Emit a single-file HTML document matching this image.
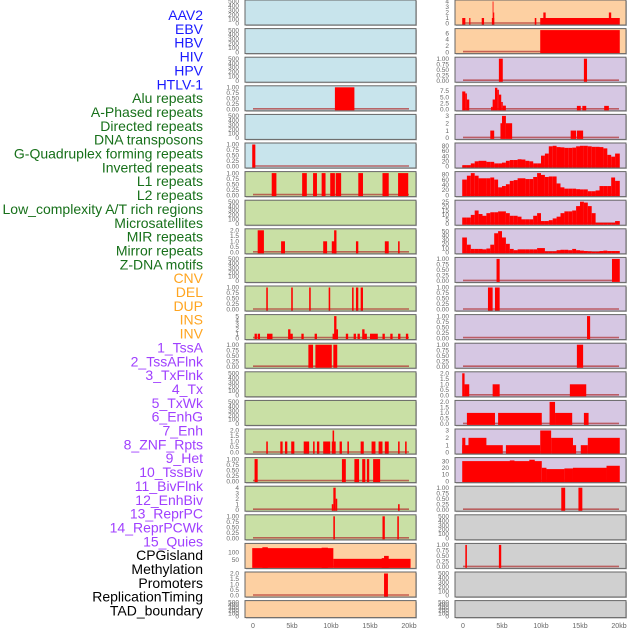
<!DOCTYPE html>
<html><head><meta charset="utf-8"><style>
html,body{margin:0;padding:0;background:#fff;width:630px;height:630px;overflow:hidden}
svg{display:block;font-family:"Liberation Sans",sans-serif}
</style></head><body>
<svg id="chart" width="630" height="630"></svg>
<script>
// ---- labels ----
const trackLabels=["AAV2","EBV","HBV","HIV","HPV","HTLV-1","Alu repeats","A-Phased repeats","Directed repeats","DNA transposons","G-Quadruplex forming repeats","Inverted repeats","L1 repeats","L2 repeats","Low_complexity A/T rich regions","Microsatellites","MIR repeats","Mirror repeats","Z-DNA motifs","CNV","DEL","DUP","INS","INV","1_TssA","2_TssAFlnk","3_TxFlnk","4_Tx","5_TxWk","6_EnhG","7_Enh","8_ZNF_Rpts","9_Het","10_TssBiv","11_BivFlnk","12_EnhBiv","13_ReprPC","14_ReprPCWk","15_Quies","CPGisland","Methylation","Promoters","ReplicationTiming","TAD_boundary"];
const labelGroups=[6,13,5,15,5];
const groupColors=["#1a1aff","#17701a","#ffa520","#a040ff","#000000"];
const xTickValues=[0,5,10,15,20];
const xTickLabels=["0","5kb","10kb","15kb","20kb"];
// ---- left column segments [startKb,endKb,value] ----
const L04=[[10.5,13.0,1]];
const L06=[[-0.1,0.3,1]];
const L07=[[2.4,3.0,1],[6.3,6.9,1],[7.7,8.2,1],[8.8,9.3,1],[9.9,10.5,1],[10.6,11.3,1],[13.5,14.1,1],[16.6,17.4,1],[18.6,19.9,1]];
const L09=[[0.6,1.4,2],[3.6,4.1,1],[9.0,9.5,1],[10.1,10.7,1],[10.4,10.7,2],[13.2,13.5,1],[16.9,17.4,1],[18.6,18.8,1]];
const L11=[[1.7,1.9,1],[4.9,5.1,1],[7.2,7.4,1],[9.7,9.9,1],[12.7,12.9,1],[13.2,13.5,1],[13.8,14.1,1]];
const L12=[[0.2,0.5,1],[0.6,0.9,1],[1.8,2.5,1],[4.5,4.8,2],[4.8,5.1,1],[6.2,6.5,1],[7.9,8.2,1],[10.2,10.8,1],[10.4,10.7,5],[10.7,10.9,2],[11.9,12.2,1],[12.9,13.2,1],[13.4,13.7,1],[14.0,14.3,2],[14.3,14.6,1],[15.0,16.0,1],[16.6,16.9,1],[17.6,17.9,1],[18.6,18.9,1],[19.6,19.9,1]];
const L13=[[7.1,7.7,1],[8.0,10.1,1],[10.3,10.8,1]];
const L16=[[1.7,1.9,1],[3.5,3.8,1],[4.1,4.4,1],[4.9,5.3,1],[6.5,7.2,1],[7.7,7.9,1],[8.2,8.5,1],[9.0,9.9,1],[10.1,10.6,1],[10.2,10.4,2],[11.1,11.4,1],[12.1,12.3,1],[13.8,14.2,1],[15.2,15.7,1],[16.1,16.6,1],[16.9,17.4,1],[18.6,18.8,1],[19.5,19.7,1]];
const L17=[[0.2,0.6,1],[11.4,11.9,1],[13.0,13.6,1],[14.0,14.4,1],[14.6,14.9,1],[15.4,16.3,1]];
const L18=[[10.1,10.3,1],[10.3,10.6,4],[10.6,10.8,2],[18.6,18.8,1]];
const L19=[[10.3,10.5,1],[16.6,16.9,1],[18.5,18.7,1]];
const L20=[[-0.1,10.3,128],[1.2,1.9,134],[8.8,9.6,131],[10.3,20.2,55],[16.5,16.8,60],[16.8,17.4,75]];
const L21=[[16.8,17.3,2]];
// ---- right column segments ----
const R01=[[-0.1,0.3,1],[0.8,0.95,1],[2.4,2.7,1],[3.7,4.0,1],[3.8,3.9,4],[3.9,4.0,2],[9.2,9.4,1],[9.9,20.1,1],[10.3,10.6,2],[18.7,19.0,2]];
const R02=[[9.9,20.1,7]];
const R03=[[4.6,5.1,1],[15.5,15.9,1]];
const R04=[[-0.1,0.3,7.3],[0.3,0.5,6.5],[0.5,0.8,4],[3.6,3.8,1],[3.8,4.1,4],[4.1,4.4,8.8],[4.4,4.6,8],[4.6,4.9,6],[4.9,5.1,3],[5.1,5.5,1.5],[14.6,15.1,1.4],[15.3,15.8,1.4],[18.1,18.7,1.4]];
const R05=[[3.5,4.0,1],[4.8,5.0,2],[5.0,5.5,3],[5.5,6.3,2],[13.8,14.5,1],[14.6,15.4,1]];
const R10=[[4.3,4.7,1],[19.1,20.1,1]];
const R11=[[3.2,3.8,1],[4.1,4.7,1]];
const R12=[[15.9,16.3,1]];
const R13=[[14.6,15.4,1]];
const R14=[[-0.1,0.2,2],[0.2,0.8,1],[3.8,4.7,1],[13.7,15.8,1]];
const R15=[[0.5,4.1,1],[4.5,10.1,1],[11.1,11.8,2],[11.8,14.0,1],[15.5,16.1,1]];
const R16=[[-0.1,5.1,1],[-0.1,0.3,2],[0.7,3.0,2],[5.5,9.9,1],[9.9,11.3,3],[11.3,14.1,2],[14.1,14.5,1],[15.1,16.0,1],[16.0,20.1,2]];
const R17=[[-0.1,10.1,30],[4.2,4.5,27],[6.0,6.6,31],[8.5,9.2,32],[10.1,10.7,20],[10.7,13.0,18],[13.0,14.1,19],[14.1,18.4,20],[18.4,20.1,23]];
const R18=[[12.6,13.1,1],[14.8,15.3,1]];
const R20=[[0.3,0.5,1],[4.6,4.9,1]];
// ---- right column binned profiles (0.5kb bins, 0..20kb) ----
const R06=[5,5,12,20,22,22,18,18,12,12,15,22,25,25,28,27,22,20,12,12,42,50,78,80,75,74,72,72,73,78,80,80,78,76,76,75,70,45,38,50];
const R07=[60,75,85,75,65,65,65,68,60,30,35,42,55,58,65,65,62,62,70,85,78,70,72,72,45,30,25,25,25,23,22,22,15,15,18,35,35,35,68,55];
const R08=[7,7,10,15,11,9,12,13,13,14,14,12,9,9,8,5,5,5,9,12,3,3,4,6,8,12,14,14,15,20,25,24,20,12,1,1,1,1,1,3];
const R09=[35,18,8,8,8,7,9,18,45,50,35,20,8,5,7,7,7,7,7,10,10,2,2,2,5,6,6,5,8,5,4,3,2,1,1,3,4,3,3,3];
// ---- tick sets ----
const T500=[0,100,200,300,400,500];
const T1=[0,0.25,0.5,0.75,1];
const T2=[0,0.5,1,1.5,2];
const T3=[0,1,2,3];
const T4=[0,1,2,3,4];
const T5=[0,1,2,3,4,5];
const T6=[0,2,4,6];
const T75=[0,2.5,5,7.5];
const T80=[0,20,40,60,80];
const T25=[0,5,10,15,20,25];
const T50=[0,10,20,30,40,50];
const T30=[0,10,20,30];
const T150=[50,100];

const BG={b:"#c8e4ec",g:"#c9e0a5",o:"#fdd0a2",p:"#d6c7e3",y:"#d0d0d0"};
function bins(arr){return arr.map((v,i)=>[i===0?-0.1:i*0.5,i===arr.length-1?20.1:(i+1)*0.5,v]);}
const leftPanels=[
 ["b",T500,500,null,0],["b",T500,500,null,0],["b",T500,500,null,0],["b",T1,1,L04,2],["b",T500,500,null,0],["b",T1,1,L06,2],
 ["g",T1,1,L07,2],["g",T500,500,null,0],["g",T2,2,L09,1],["g",T500,500,null,0],["g",T1,1,L11,2],["g",T5,5,L12,0],
 ["g",T1,1,L13,2],["g",T500,500,null,0],["g",T500,500,null,0],["g",T2,2,L16,1],["g",T1,1,L17,2],["g",T4,4,L18,0],["g",T1,1,L19,2],
 ["o",T150,150,L20,0],["o",T2,2,L21,1],["o",T500,500,null,0]];
const rightPanels=[
 ["o",T4,4,R01,0],["o",T6,7,R02,0],["p",T1,1,R03,2],["p",T75,9,R04,1],["p",T3,3,R05,0],["p",T80,85,bins(R06),0],["p",T80,85,bins(R07),0],
 ["p",T25,25,bins(R08),0],["p",T50,52,bins(R09),0],["p",T1,1,R10,2],["p",T1,1,R11,2],["p",T1,1,R12,2],["p",T1,1,R13,2],["p",T2,2,R14,1],
 ["p",T2,2,R15,1],["p",T3,3,R16,0],["p",T30,33,R17,0],["y",T1,1,R18,2],["y",T500,500,null,0],["y",T1,1,R20,2],["y",T500,500,null,0],["y",T500,500,null,0]];

const NS="http://www.w3.org/2000/svg";
const svg=document.getElementById("chart");
function mk(tag,attrs,parent){const e=document.createElementNS(NS,tag);for(const k in attrs)e.setAttribute(k,attrs[k]);(parent||svg).appendChild(e);return e;}

// labels
let li=0;
labelGroups.forEach((n,g)=>{for(let k=0;k<n;k++){const t=mk("text",{x:203,y:(20+li*13.85).toFixed(1),"text-anchor":"end","font-size":"14",fill:groupColors[g]});


t.textContent=trackLabels[li];li++;}});

function drawCol(panels,x0,colName){
 panels.forEach((p,i)=>{
  const [bgk,ticks,ymax,segs,dec]=p;
  const top=i*28.6, h=(i===21)?17:25, bot=top+h;
  const g=mk("g",{});
  
  
  mk("rect",{x:x0+1,y:top+1,width:171,height:h,fill:"#999",opacity:"0.6"},g);
  mk("rect",{x:x0,y:top,width:171,height:h,fill:BG[bgk],stroke:"#666","stroke-width":"1"},g);
  const yTop=top+1.5, yBot=bot-1.5;
  const ys=v=>yBot-v/ymax*(yBot-yTop);
  const xs=kb=>x0+8+kb*7.8;
  ticks.forEach(tv=>{const y=ys(tv);const t=mk("text",{x:x0-6,y:(y+2.2).toFixed(1),"text-anchor":"end","font-size":"6.5",fill:"#666"},g);
   
   
   t.textContent=(ymax===500||ymax===150)?String(tv):tv.toFixed(dec);});
  if(segs){
   mk("line",{x1:xs(0),x2:xs(20),y1:yBot-0.5,y2:yBot-0.5,stroke:"#b03030","stroke-width":"1.6",opacity:"0.7"},g);
   segs.forEach(s=>{const y=ys(s[2]);const r=mk("rect",{x:xs(s[0]).toFixed(2),y:y.toFixed(2),width:Math.max(0.8,(s[1]-s[0])*7.8).toFixed(2),height:(yBot-y+1).toFixed(2),fill:"#ff0000"},g);
    
    });
  }
 });
 xTickValues.forEach((v,k)=>{const t=mk("text",{x:x0+8+v*7.8,y:628,"text-anchor":"middle","font-size":"7",fill:"#666"});
  
  
  t.textContent=xTickLabels[k];});
}
drawCol(leftPanels,245,"left");
drawCol(rightPanels,455,"right");
</script>
</body></html>
